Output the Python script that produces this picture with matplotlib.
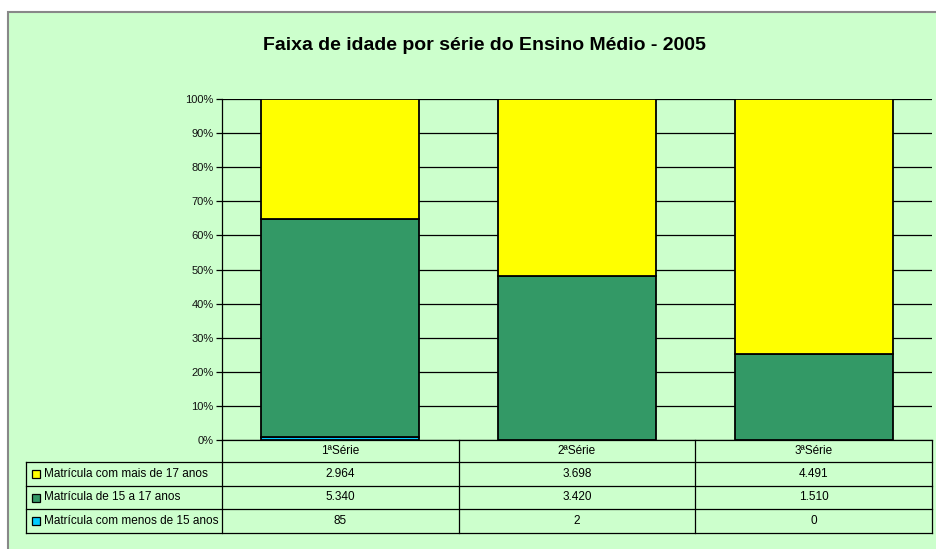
import numpy as np
import matplotlib
matplotlib.use('Agg')
from matplotlib import pyplot as plt
from matplotlib.patches import Rectangle

plt.rcParams['font.family'] = ['Liberation Sans', 'DejaVu Sans']

titulo = 'Faixa de idade por série do Ensino Médio - 2005'
series = ['1ªSérie', '2ªSérie', '3ªSérie']
nomes = ['Matrícula com mais de 17 anos',
         'Matrícula de 15 a 17 anos',
         'Matrícula com menos de 15 anos']
mais17 = [2964, 3698, 4491]
de15a17 = [5340, 3420, 1510]
menos15 = [85, 2, 0]
cores = ['#FFFF00', '#339966', '#00CCFF']

W, H = 937, 549
fig = plt.figure(figsize=(W/100., H/100.), dpi=100)
fig.patch.set_facecolor('white')
bg = Rectangle((8./W, -0.1), 1.2, (H-12.)/H + 0.1, transform=fig.transFigure,
               facecolor='#CCFFCC', edgecolor='#888888', linewidth=1.5,
               zorder=-10)
fig.patches.append(bg)

# plot area in pixels
x0, x1, ytop, ybot = 222., 932., 99., 440.
ax = fig.add_axes([x0/W, 1-ybot/H, (x1-x0)/W, (ybot-ytop)/H])
ax.set_facecolor('none')

dados = np.array([mais17, de15a17, menos15], dtype=float)
pct = dados / dados.sum(axis=0) * 100
x = np.arange(len(series))
base = np.zeros(len(series))
for i in [2, 1, 0]:
    ax.bar(x, pct[i], 0.667, bottom=base, color=cores[i], edgecolor='black',
           linewidth=1.3, zorder=3)
    base += pct[i]

ax.set_xlim(-0.5, len(series)-0.5)
ax.set_ylim(0, 100)
ax.set_yticks(np.arange(0, 101, 10))
ax.set_yticklabels(['%d%%' % v for v in range(0, 101, 10)], fontsize=8)
ax.yaxis.grid(True, color='black', linewidth=0.9, zorder=0)
ax.set_axisbelow(True)
ax.tick_params(axis='y', direction='out', length=4, width=0.9, pad=2,
               labelcolor='#111111')
ax.set_xticks([])
for s in ['top', 'right']:
    ax.spines[s].set_visible(False)
ax.spines['left'].set_linewidth(0.9)
ax.spines['bottom'].set_linewidth(0.9)

fig.text(484./W, 1-46./H, titulo, ha='center', va='center',
         fontsize=14, fontweight='bold')

# data table below the plot
tab = fig.add_axes([0, 0, 1, 1])
tab.set_xlim(0, W)
tab.set_ylim(H, 0)
tab.axis('off')
tab.patch.set_visible(False)

xl = 26.
colw = (x1 - x0) / len(series)
rows = [ybot, 462., 486., 509., 533.]
lk = dict(color='black', linewidth=0.9)
for yy in rows[1:]:
    tab.plot([xl, x1], [yy, yy], **lk)
tab.plot([xl, xl], [rows[1], rows[-1]], **lk)
for j in range(len(series)+1):
    xx = x0 + j*colw
    tab.plot([xx, xx], [rows[0], rows[-1]], **lk)

for j, s in enumerate(series):
    tab.text(x0 + (j+0.5)*colw, (rows[0]+rows[1])/2, s, ha='center',
             va='center', fontsize=8.5)
for i, nome in enumerate(nomes):
    yc = (rows[i+1] + rows[i+2]) / 2
    tab.add_patch(Rectangle((32, yc-4), 8, 8, facecolor=cores[i],
                            edgecolor='black', linewidth=0.9))
    tab.text(44, yc, nome, ha='left', va='center', fontsize=8.5)
    for j in range(len(series)):
        v = '{:,}'.format(int(dados[i, j])).replace(',', '.')
        tab.text(x0 + (j+0.5)*colw, yc, v, ha='center', va='center',
                 fontsize=8.5)

plt.savefig('out.png', dpi=100, facecolor=fig.get_facecolor())
